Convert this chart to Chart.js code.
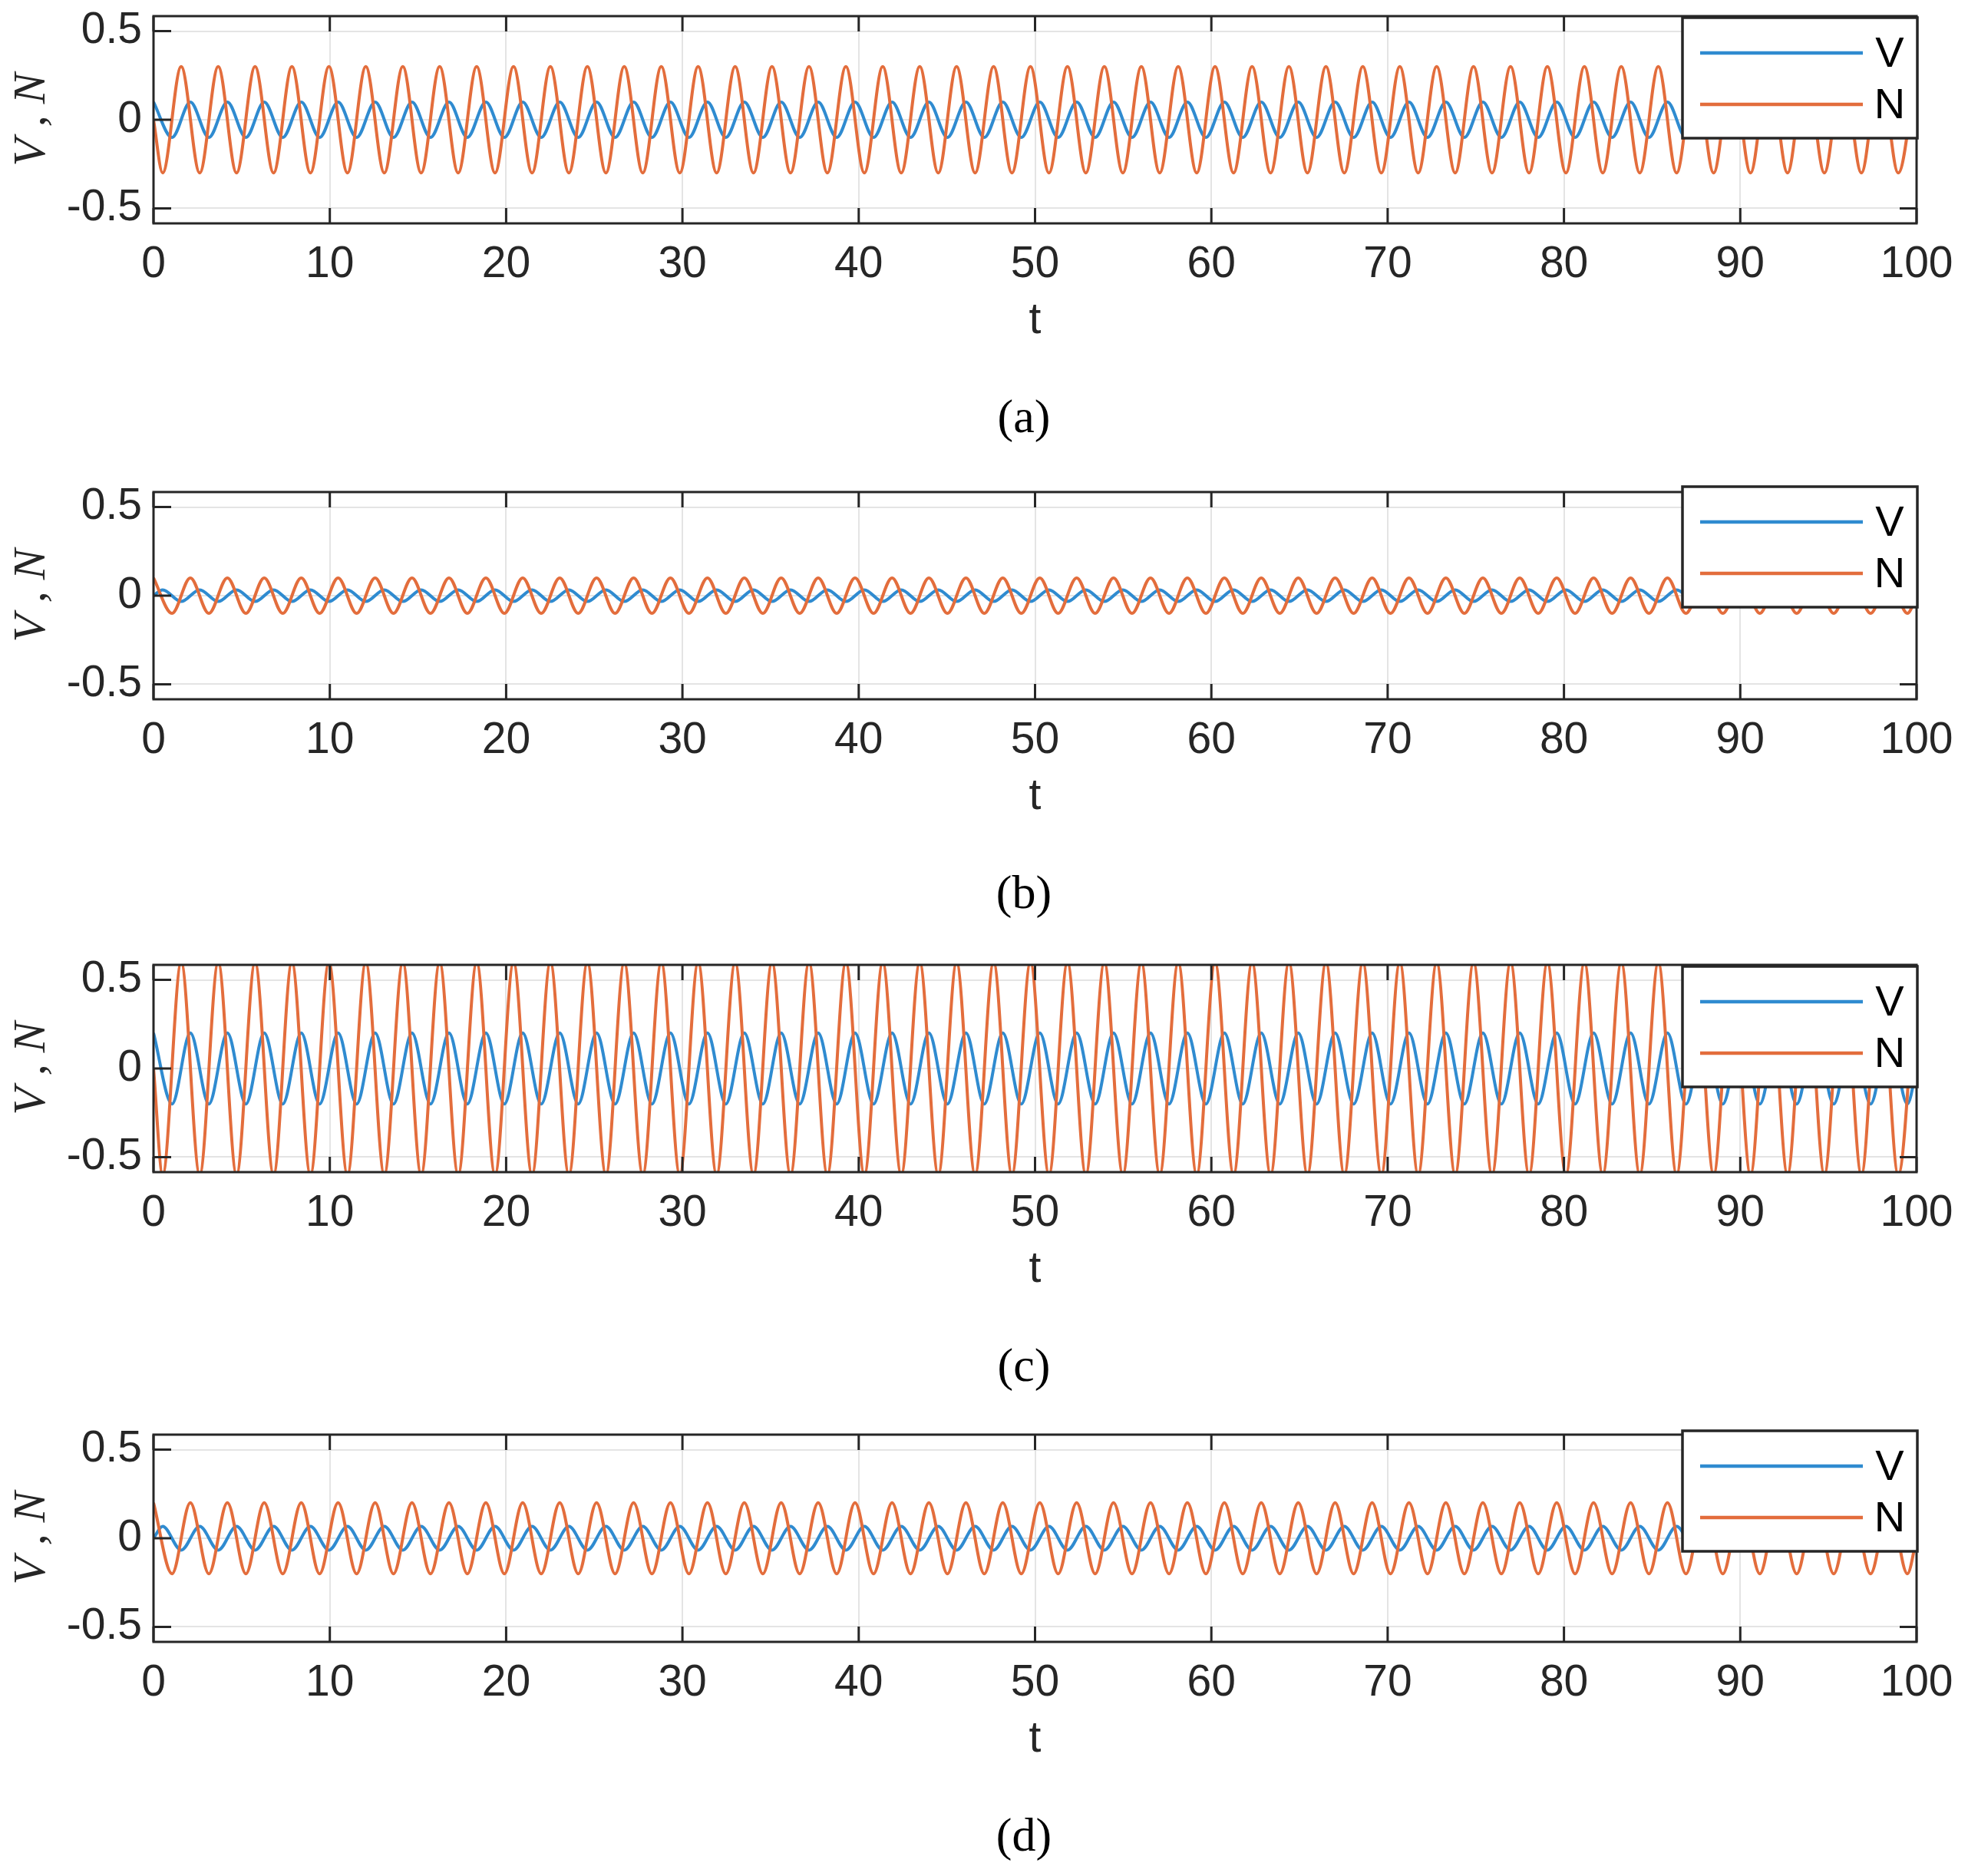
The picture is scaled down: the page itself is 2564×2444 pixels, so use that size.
<!DOCTYPE html>
<html>
<head>
<meta charset="utf-8">
<script src="https://cdn.jsdelivr.net/npm/chart.js@4.4.1/dist/chart.umd.min.js"></script>
<style>
  html, body { margin: 0; padding: 0; background: #fff; }
  body { width: 2564px; height: 2444px; position: relative; overflow: hidden; }
  .panel { position: absolute; left: 0; width: 2564px; height: 452px; }
  .panel canvas { display: block; }
  .cap { position: absolute; left: 1134px; width: 400px; text-align: center;
         font-family: 'Liberation Serif', 'Times New Roman', serif; font-size: 62px;
         line-height: 70px; color: #000; }
</style>
</head>
<body>
<div class="panel" id="pa"><canvas id="ca" width="2564" height="452"></canvas></div>
<div class="panel" id="pb"><canvas id="cb" width="2564" height="452"></canvas></div>
<div class="panel" id="pc"><canvas id="cc" width="2564" height="452"></canvas></div>
<div class="panel" id="pd"><canvas id="cd" width="2564" height="452"></canvas></div>
<div class="cap" id="capa">(a)</div>
<div class="cap" id="capb">(b)</div>
<div class="cap" id="capc">(c)</div>
<div class="cap" id="capd">(d)</div>
<script>
/* ticks */
var xTickValues = [0, 10, 20, 30, 40, 50, 60, 70, 80, 90, 100];
var yTickValues = [-0.5, 0, 0.5];
var captions = ['(a)', '(b)', '(c)', '(d)'];

/* sample times: turning points (half a period apart) */
var tEven = [
  0, 1.05, 2.09, 3.14, 4.19, 5.24, 6.28, 7.33, 8.38, 9.42, 10.47, 11.52,
  12.57, 13.61, 14.66, 15.71, 16.76, 17.80, 18.85, 19.90, 20.94, 21.99, 23.04, 24.09,
  25.13, 26.18, 27.23, 28.27, 29.32, 30.37, 31.42, 32.46, 33.51, 34.56, 35.60, 36.65,
  37.70, 38.75, 39.79, 40.84, 41.89, 42.94, 43.98, 45.03, 46.08, 47.12, 48.17, 49.22,
  50.27, 51.31, 52.36, 53.41, 54.45, 55.50, 56.55, 57.60, 58.64, 59.69, 60.74, 61.78,
  62.83, 63.88, 64.93, 65.97, 67.02, 68.07, 69.12, 70.16, 71.21, 72.26, 73.30, 74.35,
  75.40, 76.45, 77.49, 78.54, 79.59, 80.63, 81.68, 82.73, 83.78, 84.82, 85.87, 86.92,
  87.96, 89.01, 90.06, 91.11, 92.15, 93.20, 94.25, 95.30, 96.34, 97.39, 98.44, 99.48,
  100
];
var tOdd = [
  0,
  0.52, 1.57, 2.62, 3.67, 4.71, 5.76, 6.81, 7.85, 8.90, 9.95, 11.00, 12.04,
  13.09, 14.14, 15.18, 16.23, 17.28, 18.33, 19.37, 20.42, 21.47, 22.51, 23.56, 24.61,
  25.66, 26.70, 27.75, 28.80, 29.85, 30.89, 31.94, 32.99, 34.03, 35.08, 36.13, 37.18,
  38.22, 39.27, 40.32, 41.36, 42.41, 43.46, 44.51, 45.55, 46.60, 47.65, 48.69, 49.74,
  50.79, 51.84, 52.88, 53.93, 54.98, 56.03, 57.07, 58.12, 59.17, 60.21, 61.26, 62.31,
  63.36, 64.40, 65.45, 66.50, 67.54, 68.59, 69.64, 70.69, 71.73, 72.78, 73.83, 74.87,
  75.92, 76.97, 78.02, 79.06, 80.11, 81.16, 82.20, 83.25, 84.30, 85.35, 86.39, 87.44,
  88.49, 89.54, 90.58, 91.63, 92.68, 93.72, 94.77, 95.82, 96.87, 97.91, 98.96, 100.0
];

/* (a) V on tEven, N on tOdd */
var vA = [
  0.1, -0.1, 0.1, -0.1, 0.1, -0.1, 0.1, -0.1, 0.1, -0.1, 0.1, -0.1,
  0.1, -0.1, 0.1, -0.1, 0.1, -0.1, 0.1, -0.1, 0.1, -0.1, 0.1, -0.1,
  0.1, -0.1, 0.1, -0.1, 0.1, -0.1, 0.1, -0.1, 0.1, -0.1, 0.1, -0.1,
  0.1, -0.1, 0.1, -0.1, 0.1, -0.1, 0.1, -0.1, 0.1, -0.1, 0.1, -0.1,
  0.1, -0.1, 0.1, -0.1, 0.1, -0.1, 0.1, -0.1, 0.1, -0.1, 0.1, -0.1,
  0.1, -0.1, 0.1, -0.1, 0.1, -0.1, 0.1, -0.1, 0.1, -0.1, 0.1, -0.1,
  0.1, -0.1, 0.1, -0.1, 0.1, -0.1, 0.1, -0.1, 0.1, -0.1, 0.1, -0.1,
  0.1, -0.1, 0.1, -0.1, 0.1, -0.1, 0.1, -0.1, 0.1, -0.1, 0.1, -0.1,
  0
];
var nA = [
  0,
  -0.3, 0.3, -0.3, 0.3, -0.3, 0.3, -0.3, 0.3, -0.3, 0.3, -0.3, 0.3,
  -0.3, 0.3, -0.3, 0.3, -0.3, 0.3, -0.3, 0.3, -0.3, 0.3, -0.3, 0.3,
  -0.3, 0.3, -0.3, 0.3, -0.3, 0.3, -0.3, 0.3, -0.3, 0.3, -0.3, 0.3,
  -0.3, 0.3, -0.3, 0.3, -0.3, 0.3, -0.3, 0.3, -0.3, 0.3, -0.3, 0.3,
  -0.3, 0.3, -0.3, 0.3, -0.3, 0.3, -0.3, 0.3, -0.3, 0.3, -0.3, 0.3,
  -0.3, 0.3, -0.3, 0.3, -0.3, 0.3, -0.3, 0.3, -0.3, 0.3, -0.3, 0.3,
  -0.3, 0.3, -0.3, 0.3, -0.3, 0.3, -0.3, 0.3, -0.3, 0.3, -0.3, 0.3,
  -0.3, 0.3, -0.3, 0.3, -0.3, 0.3, -0.3, 0.3, -0.3, 0.3, -0.3, 0.3
];

/* (b) V on tOdd, N on tEven */
var vB = [
  0,
  0.033, -0.033, 0.033, -0.033, 0.033, -0.033, 0.033, -0.033, 0.033, -0.033, 0.033, -0.033,
  0.033, -0.033, 0.033, -0.033, 0.033, -0.033, 0.033, -0.033, 0.033, -0.033, 0.033, -0.033,
  0.033, -0.033, 0.033, -0.033, 0.033, -0.033, 0.033, -0.033, 0.033, -0.033, 0.033, -0.033,
  0.033, -0.033, 0.033, -0.033, 0.033, -0.033, 0.033, -0.033, 0.033, -0.033, 0.033, -0.033,
  0.033, -0.033, 0.033, -0.033, 0.033, -0.033, 0.033, -0.033, 0.033, -0.033, 0.033, -0.033,
  0.033, -0.033, 0.033, -0.033, 0.033, -0.033, 0.033, -0.033, 0.033, -0.033, 0.033, -0.033,
  0.033, -0.033, 0.033, -0.033, 0.033, -0.033, 0.033, -0.033, 0.033, -0.033, 0.033, -0.033,
  0.033, -0.033, 0.033, -0.033, 0.033, -0.033, 0.033, -0.033, 0.033, -0.033, 0.033, -0.033
];
var nB = [
  0.1, -0.1, 0.1, -0.1, 0.1, -0.1, 0.1, -0.1, 0.1, -0.1, 0.1, -0.1,
  0.1, -0.1, 0.1, -0.1, 0.1, -0.1, 0.1, -0.1, 0.1, -0.1, 0.1, -0.1,
  0.1, -0.1, 0.1, -0.1, 0.1, -0.1, 0.1, -0.1, 0.1, -0.1, 0.1, -0.1,
  0.1, -0.1, 0.1, -0.1, 0.1, -0.1, 0.1, -0.1, 0.1, -0.1, 0.1, -0.1,
  0.1, -0.1, 0.1, -0.1, 0.1, -0.1, 0.1, -0.1, 0.1, -0.1, 0.1, -0.1,
  0.1, -0.1, 0.1, -0.1, 0.1, -0.1, 0.1, -0.1, 0.1, -0.1, 0.1, -0.1,
  0.1, -0.1, 0.1, -0.1, 0.1, -0.1, 0.1, -0.1, 0.1, -0.1, 0.1, -0.1,
  0.1, -0.1, 0.1, -0.1, 0.1, -0.1, 0.1, -0.1, 0.1, -0.1, 0.1, -0.1,
  0
];

/* (c) V on tEven, N on tOdd (N runs past the axis limits) */
var vC = [
  0.2, -0.2, 0.2, -0.2, 0.2, -0.2, 0.2, -0.2, 0.2, -0.2, 0.2, -0.2,
  0.2, -0.2, 0.2, -0.2, 0.2, -0.2, 0.2, -0.2, 0.2, -0.2, 0.2, -0.2,
  0.2, -0.2, 0.2, -0.2, 0.2, -0.2, 0.2, -0.2, 0.2, -0.2, 0.2, -0.2,
  0.2, -0.2, 0.2, -0.2, 0.2, -0.2, 0.2, -0.2, 0.2, -0.2, 0.2, -0.2,
  0.2, -0.2, 0.2, -0.2, 0.2, -0.2, 0.2, -0.2, 0.2, -0.2, 0.2, -0.2,
  0.2, -0.2, 0.2, -0.2, 0.2, -0.2, 0.2, -0.2, 0.2, -0.2, 0.2, -0.2,
  0.2, -0.2, 0.2, -0.2, 0.2, -0.2, 0.2, -0.2, 0.2, -0.2, 0.2, -0.2,
  0.2, -0.2, 0.2, -0.2, 0.2, -0.2, 0.2, -0.2, 0.2, -0.2, 0.2, -0.2,
  0
];
var nC = [
  0,
  -0.6, 0.6, -0.6, 0.6, -0.6, 0.6, -0.6, 0.6, -0.6, 0.6, -0.6, 0.6,
  -0.6, 0.6, -0.6, 0.6, -0.6, 0.6, -0.6, 0.6, -0.6, 0.6, -0.6, 0.6,
  -0.6, 0.6, -0.6, 0.6, -0.6, 0.6, -0.6, 0.6, -0.6, 0.6, -0.6, 0.6,
  -0.6, 0.6, -0.6, 0.6, -0.6, 0.6, -0.6, 0.6, -0.6, 0.6, -0.6, 0.6,
  -0.6, 0.6, -0.6, 0.6, -0.6, 0.6, -0.6, 0.6, -0.6, 0.6, -0.6, 0.6,
  -0.6, 0.6, -0.6, 0.6, -0.6, 0.6, -0.6, 0.6, -0.6, 0.6, -0.6, 0.6,
  -0.6, 0.6, -0.6, 0.6, -0.6, 0.6, -0.6, 0.6, -0.6, 0.6, -0.6, 0.6,
  -0.6, 0.6, -0.6, 0.6, -0.6, 0.6, -0.6, 0.6, -0.6, 0.6, -0.6, 0.6
];

/* (d) V on tOdd, N on tEven */
var vD = [
  0,
  0.067, -0.067, 0.067, -0.067, 0.067, -0.067, 0.067, -0.067, 0.067, -0.067, 0.067, -0.067,
  0.067, -0.067, 0.067, -0.067, 0.067, -0.067, 0.067, -0.067, 0.067, -0.067, 0.067, -0.067,
  0.067, -0.067, 0.067, -0.067, 0.067, -0.067, 0.067, -0.067, 0.067, -0.067, 0.067, -0.067,
  0.067, -0.067, 0.067, -0.067, 0.067, -0.067, 0.067, -0.067, 0.067, -0.067, 0.067, -0.067,
  0.067, -0.067, 0.067, -0.067, 0.067, -0.067, 0.067, -0.067, 0.067, -0.067, 0.067, -0.067,
  0.067, -0.067, 0.067, -0.067, 0.067, -0.067, 0.067, -0.067, 0.067, -0.067, 0.067, -0.067,
  0.067, -0.067, 0.067, -0.067, 0.067, -0.067, 0.067, -0.067, 0.067, -0.067, 0.067, -0.067,
  0.067, -0.067, 0.067, -0.067, 0.067, -0.067, 0.067, -0.067, 0.067, -0.067, 0.067, -0.067
];
var nD = [
  0.2, -0.2, 0.2, -0.2, 0.2, -0.2, 0.2, -0.2, 0.2, -0.2, 0.2, -0.2,
  0.2, -0.2, 0.2, -0.2, 0.2, -0.2, 0.2, -0.2, 0.2, -0.2, 0.2, -0.2,
  0.2, -0.2, 0.2, -0.2, 0.2, -0.2, 0.2, -0.2, 0.2, -0.2, 0.2, -0.2,
  0.2, -0.2, 0.2, -0.2, 0.2, -0.2, 0.2, -0.2, 0.2, -0.2, 0.2, -0.2,
  0.2, -0.2, 0.2, -0.2, 0.2, -0.2, 0.2, -0.2, 0.2, -0.2, 0.2, -0.2,
  0.2, -0.2, 0.2, -0.2, 0.2, -0.2, 0.2, -0.2, 0.2, -0.2, 0.2, -0.2,
  0.2, -0.2, 0.2, -0.2, 0.2, -0.2, 0.2, -0.2, 0.2, -0.2, 0.2, -0.2,
  0.2, -0.2, 0.2, -0.2, 0.2, -0.2, 0.2, -0.2, 0.2, -0.2, 0.2, -0.2,
  0
];

/* colours */
var blue = '#2f8bd0';
var orange = '#e36d3c';
var axisColor = '#262626';

/* panel placement on the page (top of the axes box) */
var panelTops = [21, 641, 1257, 1869];
var legendDy = [2, -7, 2, -5];

function pts(ts, vals) {
  return ts.map(function(t, i) { return {x: t, y: vals[i]}; });
}

/* MATLAB style box, inward ticks and legend */
var boxPlugin = {
  id: 'matlabBox',
  afterDatasetsDraw: function(chart, args, opts) {
    var ctx = chart.ctx, a = chart.chartArea;
    var x = chart.scales.x, y = chart.scales.y;
    ctx.save();
    ctx.strokeStyle = axisColor;
    ctx.lineWidth = 3;
    ctx.beginPath();
    x.ticks.forEach(function(t) {
      var px = x.getPixelForValue(t.value);
      ctx.moveTo(px, a.bottom); ctx.lineTo(px, a.bottom - 20);
      ctx.moveTo(px, a.top); ctx.lineTo(px, a.top + 20);
    });
    y.ticks.forEach(function(t) {
      var py = y.getPixelForValue(t.value);
      ctx.moveTo(a.left, py); ctx.lineTo(a.left + 23, py);
      ctx.moveTo(a.right, py); ctx.lineTo(a.right - 22, py);
    });
    ctx.stroke();
    ctx.strokeRect(a.left, a.top, a.right - a.left, a.bottom - a.top);

    // legend
    var lx = a.right - 305, ly = a.top + opts.dy, lw = 306, lh = 157;
    ctx.fillStyle = '#fff';
    ctx.fillRect(lx, ly, lw, lh);
    ctx.lineWidth = 3.5;
    ctx.strokeRect(lx, ly, lw, lh);
    var rows = [46, 113];
    chart.data.datasets.forEach(function(ds, i) {
      ctx.strokeStyle = ds.borderColor;
      ctx.lineWidth = 4.5;
      ctx.beginPath();
      ctx.moveTo(lx + 23, ly + rows[i]);
      ctx.lineTo(lx + 235, ly + rows[i]);
      ctx.stroke();
      ctx.fillStyle = '#000';
      ctx.font = '56px "Liberation Sans", Arial, sans-serif';
      ctx.textAlign = 'center';
      ctx.textBaseline = 'middle';
      ctx.fillText(ds.label, lx + 270, ly + rows[i] + 3);
    });
    ctx.restore();
  }
};

function makePanel(idx, canvasId, vT, vVals, nT, nVals) {
  var ctx = document.getElementById(canvasId).getContext('2d');
  return new Chart(ctx, {
    type: 'line',
    data: {
      datasets: [
        {
          label: 'V',
          data: pts(vT, vVals),
          borderColor: blue,
          borderWidth: 4,
          pointRadius: 0,
          cubicInterpolationMode: 'monotone',
          order: 2
        },
        {
          label: 'N',
          data: pts(nT, nVals),
          borderColor: orange,
          borderWidth: 4,
          pointRadius: 0,
          cubicInterpolationMode: 'monotone',
          order: 1
        }
      ]
    },
    options: {
      responsive: false,
      animation: false,
      events: [],
      layout: { padding: { top: 21, right: 67, left: 0, bottom: 0 } },
      plugins: {
        legend: { display: false },
        tooltip: { enabled: false },
        matlabBox: { dy: legendDy[idx] }
      },
      scales: {
        x: {
          type: 'linear',
          min: 0,
          max: 100,
          afterBuildTicks: function(s) { s.ticks = xTickValues.map(function(v) { return {value: v}; }); },
          afterFit: function(s) { s.height = 161; s.paddingLeft = 0; s.paddingRight = 0; },
          grid: { color: '#e4e4e4', lineWidth: 2, drawTicks: false },
          border: { display: false },
          ticks: {
            font: { family: 'Liberation Sans', size: 57 },
            color: axisColor,
            padding: 20,
            maxRotation: 0,
            autoSkip: false,
            callback: function(v) { return String(v); }
          },
          title: {
            display: true,
            text: 't',
            font: { family: 'Liberation Sans', size: 57 },
            color: axisColor,
            padding: { top: 0, bottom: 0 }
          }
        },
        y: {
          type: 'linear',
          min: -0.585,
          max: 0.585,
          afterBuildTicks: function(s) { s.ticks = yTickValues.map(function(v) { return {value: v}; }); },
          afterFit: function(s) { s.width = 200; s.paddingTop = 0; s.paddingBottom = 0; },
          grid: { color: '#e4e4e4', lineWidth: 2, drawTicks: false },
          border: { display: false },
          ticks: {
            font: { family: 'Liberation Sans', size: 57 },
            color: axisColor,
            padding: 15,
            callback: function(v) { return String(v); }
          },
          title: {
            display: true,
            text: 'V , N',
            font: { family: 'Liberation Serif', size: 60, style: 'italic' },
            color: axisColor,
            padding: { top: 6, bottom: 0 }
          }
        }
      }
    },
    plugins: [boxPlugin]
  });
}

['pa', 'pb', 'pc', 'pd'].forEach(function(id, i) {
  document.getElementById(id).style.top = (panelTops[i] - 21) + 'px';
});
['capa', 'capb', 'capc', 'capd'].forEach(function(id, i) {
  var el = document.getElementById(id);
  el.textContent = captions[i];
  el.style.top = (panelTops[i] + 524 - 38) + 'px';
});

makePanel(0, 'ca', tEven, vA, tOdd, nA);
makePanel(1, 'cb', tOdd, vB, tEven, nB);
makePanel(2, 'cc', tEven, vC, tOdd, nC);
makePanel(3, 'cd', tOdd, vD, tEven, nD);
</script>
</body>
</html>
